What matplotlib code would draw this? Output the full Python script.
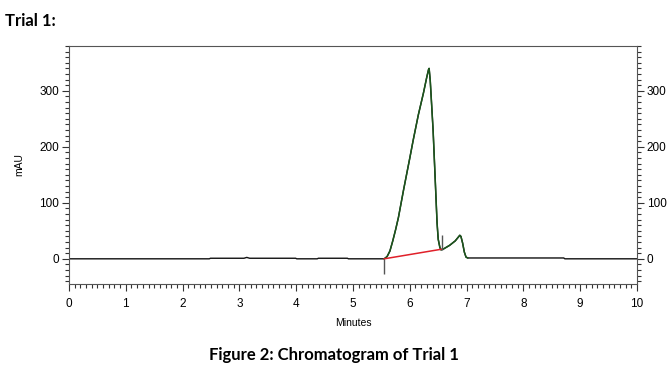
import matplotlib.pyplot as plt
from matplotlib.ticker import MultipleLocator

# detector trace (minutes, mAU)
time_min = [0.00, 2.47, 2.49, 3.08, 3.13, 3.18, 3.99, 4.01, 4.37, 4.39, 4.90, 4.92,
            5.50, 5.55, 5.60, 5.65, 5.70, 5.75, 5.80, 5.89, 6.00, 6.06, 6.15, 6.24,
            6.30, 6.33, 6.34, 6.36, 6.41, 6.48, 6.50, 6.53, 6.55, 6.60, 6.70, 6.80,
            6.88, 6.90, 6.93, 6.96, 6.99, 7.02, 8.71, 8.73, 10.00]
signal_mau = [0, 0, 1, 1, 2.5, 1, 1, 0, 0, 1, 1, 0,
              0, 0, 4, 14, 32, 52, 74, 123, 180, 212, 257, 296,
              325, 338, 340, 318, 230, 64, 35, 20, 16, 18, 24, 32,
              42, 40, 28, 12, 3, 1.5, 1.5, 0, 0]

# integration baseline and peak markers
base_t = [5.55, 6.55]
base_v = [0, 17]
mark_t = [5.55, 6.56]
mark_lo = [-27, 16]
mark_hi = [0, 43]

x_ticks = list(range(0, 11))
y_ticks = [0, 100, 200, 300]

tick_font = 'Liberation Sans'

fig = plt.figure(figsize=(6.68, 3.80), dpi=100)
ax = fig.add_axes([0.1033, 0.2526, 0.8503, 0.6263])

# whole trace in black, the peak region drawn over it in dark green
ax.plot(time_min, signal_mau, color='#111111', lw=1.0)
pk = slice(13, 42)
ax.plot(time_min[pk], signal_mau[pk], color='#1c561c', lw=1.1)
ax.plot(base_t, base_v, color='#e0202a', lw=1.1)
ax.vlines(mark_t, mark_lo, mark_hi, color='#555555', lw=1.0)

ax.set_xlim(0, 10)
ax.set_ylim(-45, 380)
ax.set_xticks(x_ticks)
ax.set_yticks(y_ticks)
ax.xaxis.set_minor_locator(MultipleLocator(0.1))
ax.yaxis.set_minor_locator(MultipleLocator(10))
ax.tick_params(which='both', direction='out', color='#333333', width=0.8,
               labelsize=8.5, right=True, labelright=True, top=False, pad=2)
ax.tick_params(which='major', length=5)
ax.tick_params(which='minor', length=3)
ax.tick_params(axis='x', pad=5)
for lab in ax.get_xticklabels() + ax.get_yticklabels():
    lab.set_family(tick_font)
for tk in ax.yaxis.get_major_ticks():
    tk.label2.set_family(tick_font)
for sp in ax.spines.values():
    sp.set_color('#555555')
    sp.set_linewidth(0.8)

ax.set_xlabel('Minutes', fontsize=7.5, family=tick_font, labelpad=6)
ax.set_ylabel('mAU', fontsize=7.5, family=tick_font, labelpad=11)

fig.text(0.008, 0.945, 'Trial 1:', fontsize=12, fontweight='bold',
         family='Lato', ha='left', va='center')
fig.text(0.50, 0.066, 'Figure 2: Chromatogram of Trial 1', fontsize=12,
         fontweight='bold', family='Lato', ha='center', va='center')

fig.savefig('out.png', dpi=100, facecolor='white')
